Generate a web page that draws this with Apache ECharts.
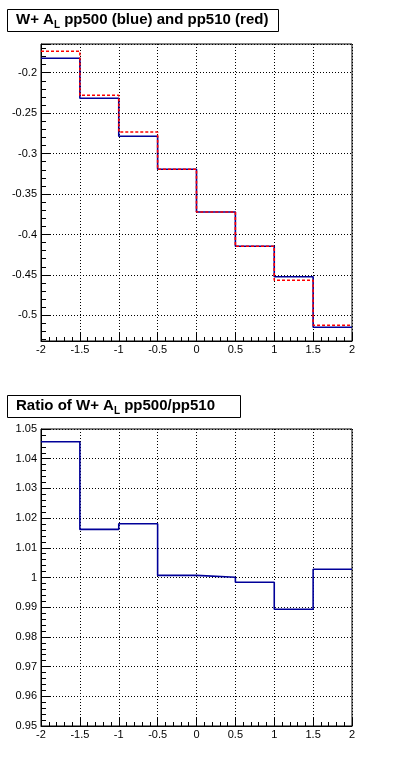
<!DOCTYPE html>
<html><head><meta charset="utf-8">
<script src="https://cdn.jsdelivr.net/npm/echarts@6/dist/echarts.min.js"></script>
<style>html,body{margin:0;padding:0;background:#fff}#c{width:396px;height:772px}</style>
</head><body><div id="c"></div>
<script>
// ---- data ----
const binEdges = [-2, -1.5, -1, -0.5, 0, 0.5, 1, 1.5, 2];
const pp500 = [-0.1822, -0.2316, -0.2786, -0.3194, -0.3722, -0.4146, -0.4522, -0.5147];
const pp510 = [-0.1735, -0.2279, -0.2733, -0.3194, -0.3722, -0.4146, -0.4566, -0.5122];
const ratio = [1.0457, 1.0162, 1.0181, 1.0007, 1.0001, 0.9984, 0.9893, 1.0028];
const topTitle = ['W+ A', 'L', ' pp500 (blue) and pp510 (red)'];
const bottomTitle = ['Ratio of W+ A', 'L', ' pp500/pp510'];

function hist(vals) {
  const d = vals.map((v, i) => [binEdges[i], v]);
  d.push([binEdges[binEdges.length - 1], vals[vals.length - 1]]);
  return d;
}

const FONT = 'Liberation Sans';
const NAVY = '#000099';
const dotted = { color: '#000', width: 1, type: [1, 2] };

function xAxis(gi) {
  return {
    type: 'value', gridIndex: gi, min: -2, max: 2, interval: 0.5,
    axisLine: { show: true, onZero: false, lineStyle: { color: '#000', width: 1 } },
    axisTick: { show: true, inside: true, length: 8, lineStyle: { color: '#000' } },
    minorTick: { show: true, splitNumber: 5, length: 4, lineStyle: { color: '#000' } },
    axisLabel: { color: '#000', fontFamily: FONT, fontSize: 11, margin: 3 },
    splitLine: { show: true, lineStyle: dotted }
  };
}
function yAxisCommon(gi) {
  return {
    type: 'value', gridIndex: gi,
    axisLine: { show: true, onZero: false, lineStyle: { color: '#000', width: 1 } },
    axisTick: { show: true, inside: true, length: 9, lineStyle: { color: '#000' } },
    minorTick: { show: true, splitNumber: 5, length: 5, lineStyle: { color: '#000' } },
    axisLabel: { color: '#000', fontFamily: FONT, fontSize: 11, margin: 4, showMinLabel: false, showMaxLabel: false },
    splitLine: { show: true, lineStyle: dotted }
  };
}

const y0 = Object.assign(yAxisCommon(0), { min: -0.5317, max: -0.1645, splitNumber: 7, scale: true });
const y1 = Object.assign(yAxisCommon(1), { min: 0.95, max: 1.05, interval: 0.01 });
y1.axisLabel = Object.assign({}, y1.axisLabel, { showMinLabel: true, showMaxLabel: true });

function titleGraphic(parts, x, y, w, h) {
  return [
    { type: 'rect', shape: { x: x + 0.5, y: y + 0.5, width: w, height: h },
      style: { fill: '#fff', stroke: '#000', lineWidth: 1 }, z: 100 },
    { type: 'text', x: x + 9, y: y + 1, z: 101,
      style: {
        text: '{a|' + parts[0] + '}{s|' + parts[1] + '}{a|' + parts[2] + '}',
        rich: {
          a: { fontFamily: FONT, fontWeight: 'bold', fontSize: 15, fill: '#000', lineHeight: 20, verticalAlign: 'middle' },
          s: { fontFamily: FONT, fontWeight: 'bold', fontSize: 10, fill: '#000', lineHeight: 20, verticalAlign: 'bottom' }
        }
      } }
  ];
}

const chart = echarts.init(document.getElementById('c'), null, { renderer: 'canvas' });
chart.setOption({
  animation: false,
  backgroundColor: '#fff',
  grid: [
    { left: 41, top: 44, width: 311, height: 297, show: true, borderColor: '#000', borderWidth: 1, backgroundColor: 'transparent', containLabel: false },
    { left: 41, top: 429, width: 311, height: 297, show: true, borderColor: '#000', borderWidth: 1, backgroundColor: 'transparent', containLabel: false }
  ],
  xAxis: [xAxis(0), xAxis(1)],
  yAxis: [y0, y1],
  series: [
    { type: 'line', xAxisIndex: 0, yAxisIndex: 0, step: 'end', data: hist(pp500), showSymbol: false,
      lineStyle: { color: NAVY, width: 1.6 }, z: 3 },
    { type: 'line', xAxisIndex: 0, yAxisIndex: 0, step: 'end', data: hist(pp510), showSymbol: false,
      lineStyle: { color: '#ff0000', width: 1.6, type: [3, 2] }, z: 4 },
    { type: 'line', xAxisIndex: 1, yAxisIndex: 1, step: 'end', data: hist(ratio), showSymbol: false,
      lineStyle: { color: NAVY, width: 1.6 }, z: 3 }
  ],
  graphic: titleGraphic(topTitle, 7, 9, 271, 22).concat(titleGraphic(bottomTitle, 7, 395, 233, 22))
});
</script></body></html>
